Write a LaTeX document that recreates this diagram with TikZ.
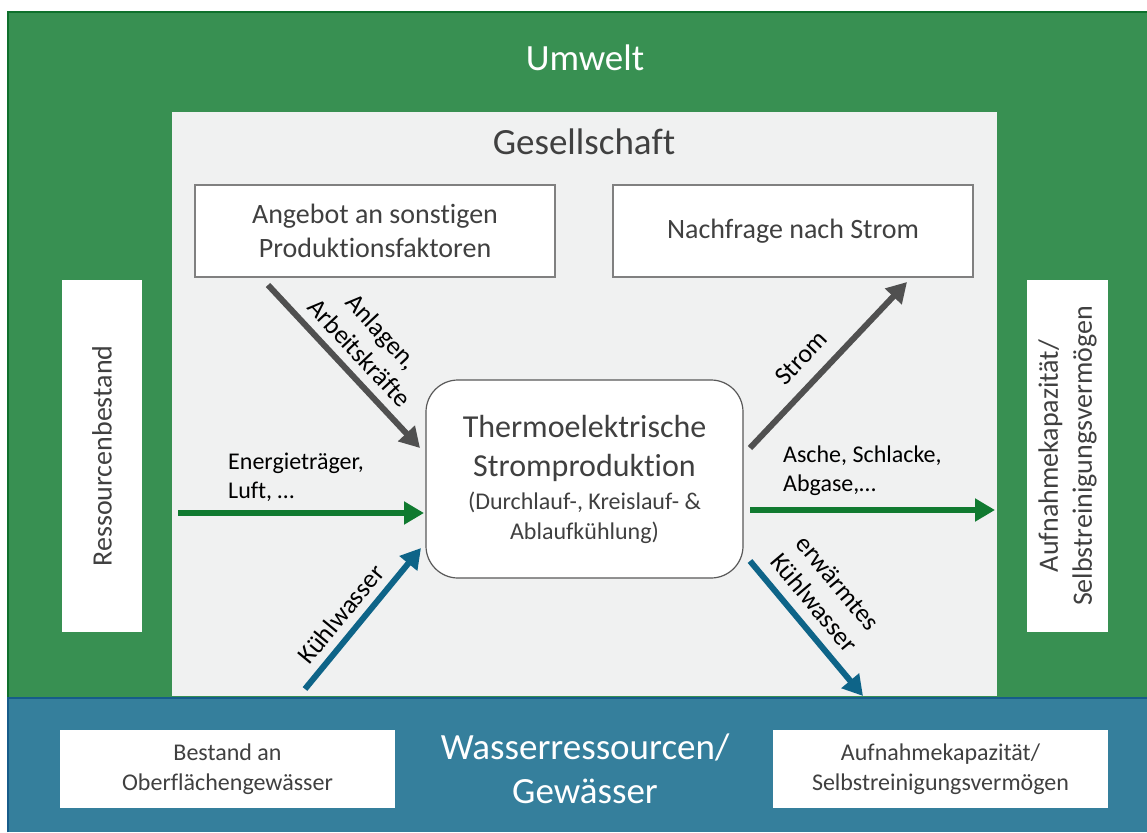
\documentclass[tikz,border=0pt]{standalone}
\usepackage{fontspec}
\setmainfont[Ligatures=NoCommon]{Carlito}
\usetikzlibrary{arrows.meta}
\definecolor{umweltgreen}{RGB}{56,144,82}
\definecolor{umweltline}{RGB}{14,112,44}
\definecolor{wasserblue}{RGB}{53,127,156}
\definecolor{wasserline}{RGB}{22,92,138}
\definecolor{gesgray}{RGB}{240,241,241}
\definecolor{txtgray}{RGB}{64,64,64}
\definecolor{arrgray}{RGB}{80,80,80}
\definecolor{arrgreen}{RGB}{16,122,48}
\definecolor{arrblue}{RGB}{14,100,136}
\tikzset{
  wbox/.style={draw=black!50, line width=1.2pt, fill=white, text=txtgray, align=center, inner sep=0pt},
  flow/.style={line width=6pt, -{Triangle[length=20pt,width=22pt]}, shorten >=0pt},
  lbl/.style={text=black, align=center, font=\fontsize{24}{29}\selectfont, inner sep=0pt},
  rlbl/.style={lbl, font=\fontsize{26}{31}\selectfont}
}
\begin{document}
\begin{tikzpicture}[x=1pt, y=-1pt]
\useasboundingbox (0,0) rectangle (1147,832);
% Umwelt und Wasser
\fill[umweltgreen] (7,11) rectangle (1147,697);
\draw[umweltline, line width=2.5pt] (8,832) -- (8,12.2) -- (1147,12.2);
\fill[wasserblue] (7,697) rectangle (1147,832);
\draw[wasserline, line width=2.5pt] (8,832) -- (8,698) -- (1147,698);
\node[text=white, font=\fontsize{37}{44}\selectfont] (umwelt) at (585,58) {Umwelt};
\node[text=white, align=center, font=\fontsize{37}{44}\selectfont] (wasser) at (585,769) {Wasserressourcen/\\Gewässer};
% Gesellschaft
\fill[gesgray] (172,112) rectangle (997,696);
\node[text=txtgray, font=\fontsize{37}{44}\selectfont] (ges) at (584,142) {Gesellschaft};
\node[wbox, minimum width=360pt, minimum height=92pt, font=\fontsize{28}{34}\selectfont] (angebot) at (375,231) {Angebot an sonstigen\\Produktionsfaktoren};
\node[wbox, minimum width=360pt, minimum height=92pt, font=\fontsize{28}{34}\selectfont] (nachfrage) at (793,231) {Nachfrage nach Strom};
\node[wbox, rounded corners=32pt, draw=black!65, minimum width=317pt, minimum height=198pt, font=\fontsize{32}{39}\selectfont] (prod) at (584.5,479)
  {Thermoelektrische\\Stromproduktion\\[-6pt]\fontsize{24}{29}\selectfont (Durchlauf-, Kreislauf- \&\\[-9pt]\fontsize{24}{29}\selectfont Ablaufkühlung)};
% Bestand / Aufnahme
\node[wbox, draw=none, minimum width=80pt, minimum height=352pt] (ressource) at (102,456) {};
\node[text=txtgray, rotate=90, font=\fontsize{28}{34}\selectfont] at (ressource) {Ressourcenbestand};
\node[wbox, draw=none, minimum width=81pt, minimum height=352pt] (aufnahme) at (1067.5,456) {};
\node[text=txtgray, rotate=90, align=center, font=\fontsize{28}{34}\selectfont] at (aufnahme) {Aufnahmekapazität/\\Selbstreinigungsvermögen};
\node[wbox, draw=none, minimum width=335pt, minimum height=78pt, font=\fontsize{24}{30}\selectfont] (bestand) at (227.5,769) {Bestand an\\Oberflächengewässer};
\node[wbox, draw=none, minimum width=335pt, minimum height=78pt, font=\fontsize{24}{30}\selectfont] (aufnahmew) at (940.5,769) {Aufnahmekapazität/\\Selbstreinigungsvermögen};
% Pfeilenden
\coordinate (a1) at (268,285);
\coordinate (a2) at (420,448);
\coordinate (s1) at (750,448);
\coordinate (s2) at (907,282);
\coordinate (e1) at (178,513);
\coordinate (e2) at (424,513);
\coordinate (g1) at (750,510);
\coordinate (g2) at (995,510);
\coordinate (k1) at (305,689);
\coordinate (k2) at (421,548);
\coordinate (w1) at (750,561);
\coordinate (w2) at (863,696);
\draw[flow, arrgray] (a1) -- (a2);
\draw[flow, arrgray] (s1) -- (s2);
\draw[flow, arrgreen] (e1) -- (e2);
\draw[flow, arrgreen] (g1) -- (g2);
\draw[flow, arrblue] (k1) -- (k2);
\draw[flow, arrblue] (w1) -- (w2);
% Beschriftungen
\node[rlbl, rotate=-47] (anlagen) at (371,342) {Anlagen,\\Arbeitskräfte};
\node[rlbl, rotate=46.5] (strom) at (801,358) {Strom};
\node[lbl, align=left, anchor=west] (energie) at (228,477) {Energieträger,\\Luft, …};
\node[lbl, align=left, anchor=west] (asche) at (783,471) {Asche, Schlacke,\\Abgase,…};
\node[rlbl, rotate=50.5] (kuehl) at (341,614) {Kühlwasser};
\node[rlbl, rotate=-50] (warm) at (826,593) {erwärmtes\\Kühlwasser};
\end{tikzpicture}
\end{document}
